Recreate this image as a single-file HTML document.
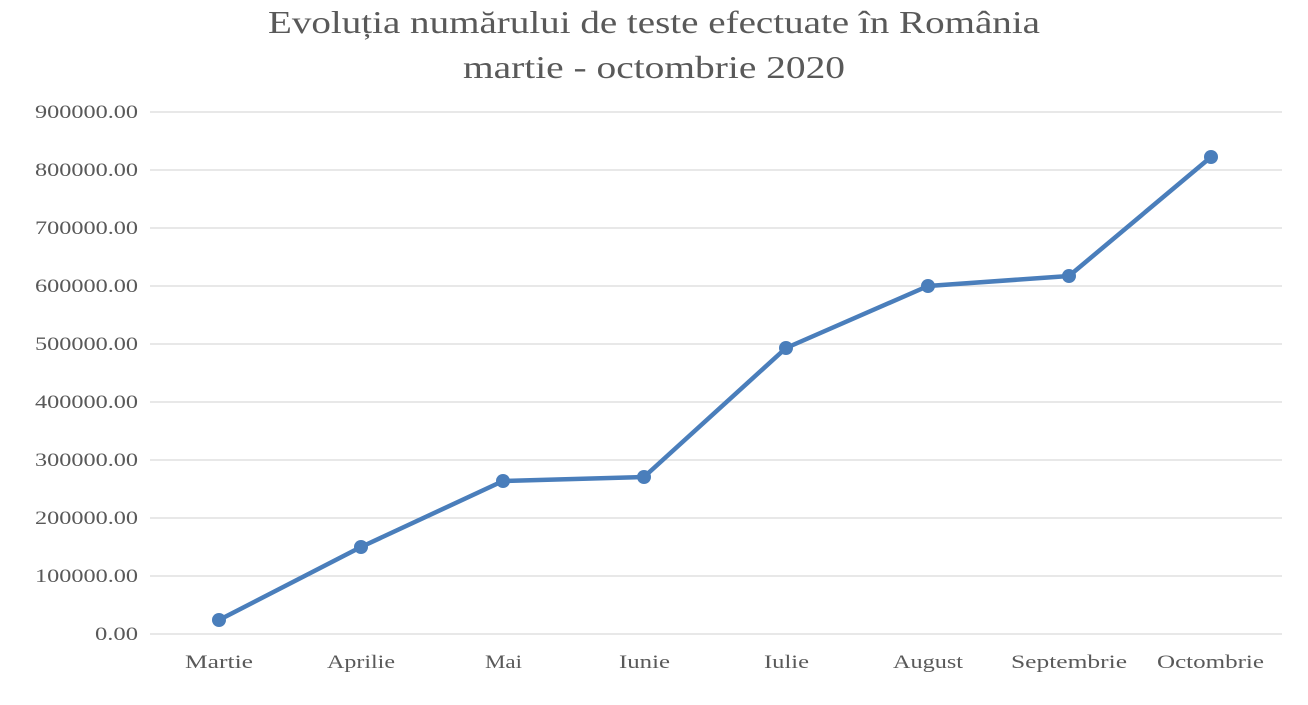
<!DOCTYPE html>
<html><head><meta charset="utf-8"><style>
html,body{margin:0;padding:0;background:#fff;}
</style></head><body>
<svg width="1308" height="700" viewBox="0 0 1308 700" xmlns="http://www.w3.org/2000/svg" font-family="'Liberation Serif', serif">
<rect x="0" y="0" width="1308" height="700" fill="#fff"/>
<text x="268" y="33" font-size="32" fill="#595959" textLength="772" lengthAdjust="spacingAndGlyphs">Evoluția numărului de teste efectuate în România</text>
<text x="463" y="78" font-size="32" fill="#595959" textLength="382" lengthAdjust="spacingAndGlyphs">martie - octombrie 2020</text>
<g stroke="#d9d9d9" stroke-width="1.3">
<line x1="150" x2="1282" y1="112" y2="112"/>
<line x1="150" x2="1282" y1="170" y2="170"/>
<line x1="150" x2="1282" y1="228" y2="228"/>
<line x1="150" x2="1282" y1="286" y2="286"/>
<line x1="150" x2="1282" y1="344" y2="344"/>
<line x1="150" x2="1282" y1="402" y2="402"/>
<line x1="150" x2="1282" y1="460" y2="460"/>
<line x1="150" x2="1282" y1="518" y2="518"/>
<line x1="150" x2="1282" y1="576" y2="576"/>
<line x1="150" x2="1282" y1="634" y2="634"/>
</g>
<g font-size="19" fill="#595959">
<text x="35" y="118" textLength="103" lengthAdjust="spacingAndGlyphs">900000.00</text>
<text x="35" y="176" textLength="103" lengthAdjust="spacingAndGlyphs">800000.00</text>
<text x="35" y="234" textLength="103" lengthAdjust="spacingAndGlyphs">700000.00</text>
<text x="35" y="292" textLength="103" lengthAdjust="spacingAndGlyphs">600000.00</text>
<text x="35" y="350" textLength="103" lengthAdjust="spacingAndGlyphs">500000.00</text>
<text x="35" y="408" textLength="103" lengthAdjust="spacingAndGlyphs">400000.00</text>
<text x="35" y="466" textLength="103" lengthAdjust="spacingAndGlyphs">300000.00</text>
<text x="35" y="524" textLength="103" lengthAdjust="spacingAndGlyphs">200000.00</text>
<text x="35" y="582" textLength="103" lengthAdjust="spacingAndGlyphs">100000.00</text>
<text x="95" y="640" textLength="43" lengthAdjust="spacingAndGlyphs">0.00</text>
</g>
<g font-size="19" fill="#595959">
<text x="185" y="668" textLength="68" lengthAdjust="spacingAndGlyphs">Martie</text>
<text x="327" y="668" textLength="68" lengthAdjust="spacingAndGlyphs">Aprilie</text>
<text x="485" y="668" textLength="37" lengthAdjust="spacingAndGlyphs">Mai</text>
<text x="619" y="668" textLength="51" lengthAdjust="spacingAndGlyphs">Iunie</text>
<text x="764" y="668" textLength="45" lengthAdjust="spacingAndGlyphs">Iulie</text>
<text x="893" y="668" textLength="70" lengthAdjust="spacingAndGlyphs">August</text>
<text x="1011" y="668" textLength="116" lengthAdjust="spacingAndGlyphs">Septembrie</text>
<text x="1157" y="668" textLength="107" lengthAdjust="spacingAndGlyphs">Octombrie</text>
</g>
<polyline fill="none" stroke="#4a7ebb" stroke-width="4.5" stroke-linejoin="round" points="219,620 361,547 503,481 644,477 786,348 928,286 1069,276 1211,157"/>
<g fill="#4a7ebb">
<circle cx="219" cy="620" r="7"/>
<circle cx="361" cy="547" r="7"/>
<circle cx="503" cy="481" r="7"/>
<circle cx="644" cy="477" r="7"/>
<circle cx="786" cy="348" r="7"/>
<circle cx="928" cy="286" r="7"/>
<circle cx="1069" cy="276" r="7"/>
<circle cx="1211" cy="157" r="7"/>
</g>
</svg>
</body></html>
